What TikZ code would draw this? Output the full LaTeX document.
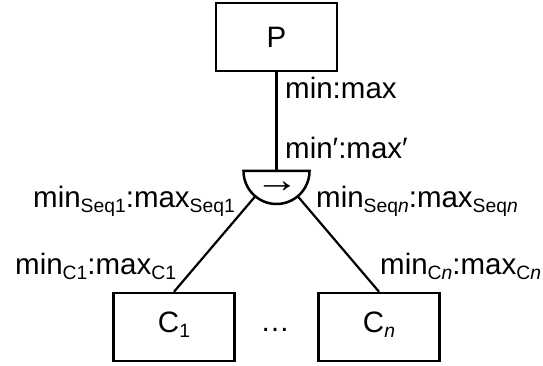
\documentclass[tikz,border=0pt]{standalone}
\usepackage{fontspec}
\setmainfont{Liberation Sans}
\usetikzlibrary{calc}
\newcommand{\sbx}[1]{\raisebox{-5pt}{\fontsize{19.3pt}{20pt}\selectfont #1}}
\begin{document}
\begin{tikzpicture}[x=1pt,y=1pt,
  font=\fontsize{29.5pt}{32pt}\selectfont,
  box/.style={draw,line width=2.5pt,minimum width=121pt,minimum height=68pt,inner sep=0pt,text height=21pt,text depth=0pt},
  cbox/.style={box,text depth=9pt},
  lbl/.style={inner sep=0pt,anchor=base west},
  conn/.style={line width=2.2pt}]
\useasboundingbox (0,0) rectangle (543,366);
\node[box] (P) at (276.5,329) {P};
\node[cbox] (C1) at (174,39) {C\sbx{1}};
\node[cbox] (Cn) at (379,39) {C\sbx{\textit{n}}};
\node[inner sep=0pt,anchor=base] (dots) at (275,34) {…};
\coordinate (hc) at (276.5,195);
\coordinate (sl) at ($(hc)+(-130:33)$);
\coordinate (sr) at ($(hc)+(-50:33)$);
\draw[conn] (P.south) -- (hc);
\draw[conn] (sl) -- (C1.north);
\draw[conn] (sr) -- (Cn.north);
\draw[line width=2.5pt,fill=white] ($(hc)+(-33,0)$) -- ($(hc)+(33,0)$) arc[start angle=0,end angle=-180,radius=33] -- cycle;
\node[inner sep=0pt] (arr) at (277,179) {\scalebox{1.5}[1.25]{→}};
\node[lbl] (l1) at (285,267) {min:max};
\node[lbl] (l2) at (285,207.7) {min′:max′};
\node[lbl] (l3) at (33,158) {min\sbx{Seq1}:max\sbx{Seq1}};
\node[lbl] (l4) at (316,158.7) {min\sbx{Seq\textit{n}}:max\sbx{Seq\textit{n}}};
\node[lbl] (l5) at (15,91) {min\sbx{C1}:max\sbx{C1}};
\node[lbl] (l6) at (380,91) {min\sbx{C\textit{n}}:max\sbx{C\textit{n}}};
\end{tikzpicture}
\end{document}
